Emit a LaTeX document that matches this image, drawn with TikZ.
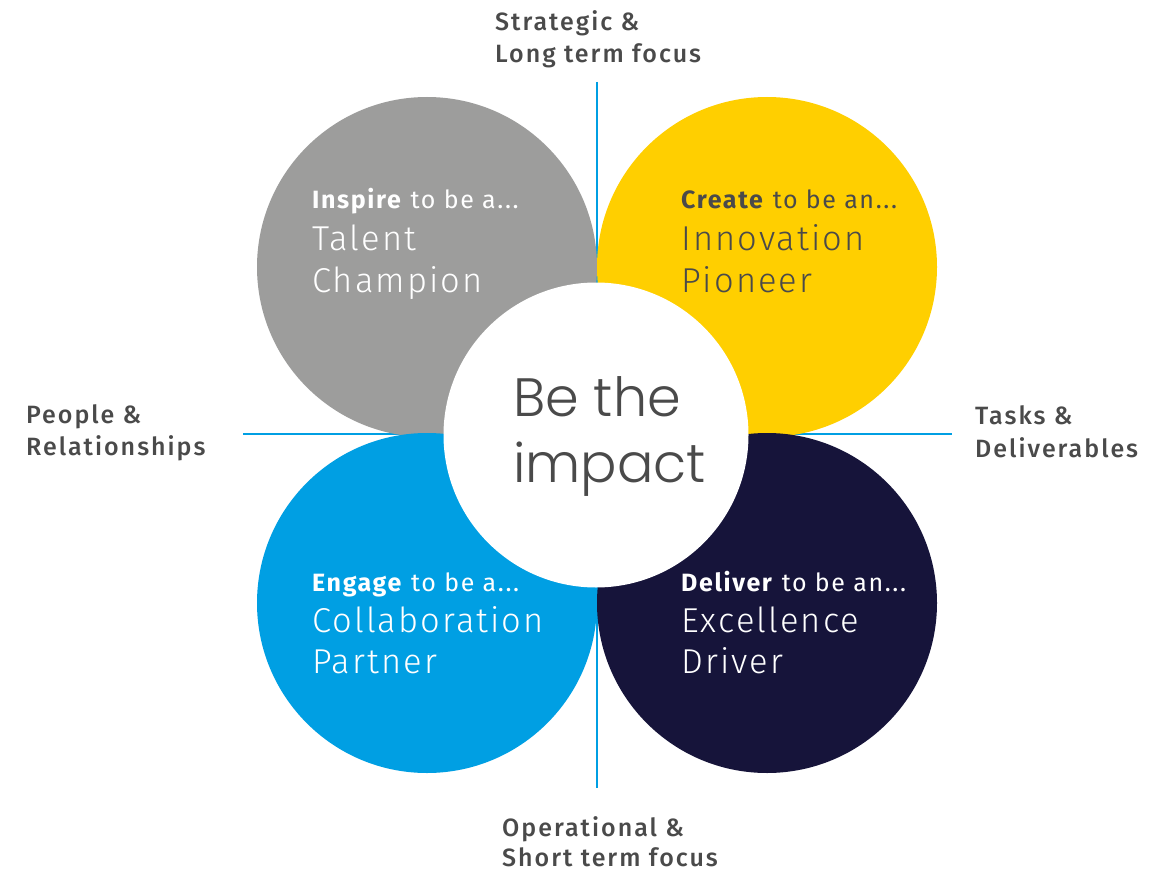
\documentclass[tikz,border=0pt]{standalone}
\usepackage{fontspec}
\setmainfont{Fira Sans}[LetterSpace=6.5]
\newfontfamily\lightfont{Poppins Light}
\newfontfamily\thinfont{Fira Sans Light}[LetterSpace=6]
\newfontfamily\medfont{Fira Sans Medium}[LetterSpace=8]
\definecolor{lineblue}{HTML}{009FE3}
\definecolor{cgrey}{HTML}{9D9D9C}
\definecolor{cyellow}{HTML}{FFCF00}
\definecolor{cblue}{HTML}{009FE3}
\definecolor{cnavy}{HTML}{16143A}
\definecolor{tgrey}{HTML}{4A4A4A}
\begin{document}
\begin{tikzpicture}[x=1pt,y=-1pt,
  axis/.style={draw=lineblue,line width=2.2pt},
  petal/.style={circle,minimum size=340pt,inner sep=0pt},
  lbl/.style={anchor=base west,inner sep=0pt,text=tgrey,font=\medfont\fontsize{25}{28}\selectfont},
  small/.style={anchor=base west,inner sep=0pt,font=\fontsize{25}{30}\selectfont},
  big/.style={anchor=base west,inner sep=0pt,font=\thinfont\fontsize{34.5}{40}\selectfont},
  centre/.style={anchor=base west,inner sep=0pt,text=tgrey,font=\lightfont\fontsize{54}{60}\selectfont}]
\useasboundingbox[fill=white] (0,0) rectangle (1173,872);
% axes
\coordinate (vt) at (597,82);
\coordinate (vb) at (597,788);
\coordinate (hl) at (243,434);
\coordinate (hr) at (952,434);
\draw[axis] (vt) -- (vb);
\draw[axis] (hl) -- (hr);
% petals
\node[petal,fill=cgrey] (tl) at (427,267) {};
\node[petal,fill=cyellow] (tr) at (767,267) {};
\node[petal,fill=cblue] (bl) at (427,603) {};
\node[petal,fill=cnavy] (br) at (767,603) {};
\node[circle,fill=white,minimum size=305pt,inner sep=0pt] (mid) at (596,435) {};
% centre text
\node[centre] (c1) at (513,416) {Be the};
\node[centre] (c2) at (513,482) {impact};
% petal texts
\node[small,text=white] (t1) at (312,208) {\textbf{Inspire} to be a...};
\node[big,text=white] (t2) at (312,250) {Talent};
\node[big,text=white] (t3) at (312,292) {Champion};
\node[small,text=tgrey] (y1) at (681,208) {\textbf{Create} to be an...};
\node[big,text=tgrey] (y2) at (681,250) {Innovation};
\node[big,text=tgrey] (y3) at (681,292) {Pioneer};
\node[small,text=white] (b1) at (312,591) {\textbf{Engage} to be a...};
\node[big,text=white] (b2) at (312,632) {Collaboration};
\node[big,text=white] (b3) at (312,673) {Partner};
\node[small,text=white] (n1) at (681,591) {\textbf{Deliver} to be an...};
\node[big,text=white] (n2) at (681,632) {Excellence};
\node[big,text=white] (n3) at (681,673) {Driver};
% axis labels
\node[lbl] (s1) at (495,31) {Strategic \&};
\node[lbl] (s2) at (495,63) {Long term focus};
\node[lbl] (p1) at (26,423) {People \&};
\node[lbl] (p2) at (26,455) {Relationships};
\node[lbl] (d1) at (975,424) {Tasks \&};
\node[lbl] (d2) at (975,457) {Deliverables};
\node[lbl] (o1) at (502,836) {Operational \&};
\node[lbl] (o2) at (502,866) {Short term focus};
\end{tikzpicture}
\end{document}
